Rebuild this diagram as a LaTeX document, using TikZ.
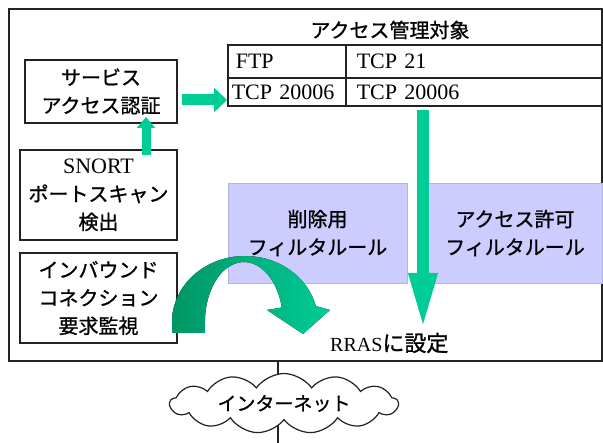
\documentclass[tikz,border=0pt]{standalone}
\usepackage{fontspec}
\setmainfont{Liberation Serif}
\newfontfamily\jp[FakeBold=1]{Noto Sans CJK JP}
\usetikzlibrary{arrows.meta,shapes.symbols}
\definecolor{gA}{RGB}{0,204,150}
\definecolor{gD}{RGB}{0,150,100}
\definecolor{lav}{RGB}{204,204,255}
\definecolor{lavb}{RGB}{180,180,225}
\definecolor{frm}{RGB}{35,35,35}
\begin{document}
\begin{tikzpicture}[x=1pt,y=-1pt,
  jpf/.style={font=\jp\fontsize{20}{28}\selectfont},
  box/.style={draw=frm, line width=1.6pt, fill=white, inner sep=0pt, align=center, jpf},
  cell/.style={draw=frm, line width=1.6pt, inner ysep=0pt, align=left, anchor=north west,
    font=\fontsize{22}{26}\selectfont},
  pbox/.style={draw=lavb, line width=0.8pt, fill=lav, inner sep=0pt, align=center, jpf},
  garrow/.style={draw=gA, line width=#1}
]
\useasboundingbox (0,0) rectangle (603,443);
% outer frame
\node[draw=frm, line width=2pt, minimum width=593pt, minimum height=352pt, inner sep=0pt] (frame) at (305.5,185) {};
% internet line and cloud
\coordinate (lt) at (278,361);
\coordinate (lb) at (278,443);
\draw[line width=2pt, frm] (lt) -- (lb);
\node[cloud, draw=frm, fill=white, line width=1.2pt, cloud puffs=13, cloud puff arc=110, aspect=5,
  minimum width=228pt, minimum height=47pt, inner sep=0pt, font=\jp\fontsize{19}{24}\selectfont] (inet) at (284,403.5) {インターネット};
% left boxes
\node[box, minimum width=152pt, minimum height=63pt] (auth) at (101,91.5) {サービス\\アクセス認証};
\node[box, minimum width=157pt, minimum height=90pt] (snort) at (98.5,195) {{\rmfamily\fontsize{22}{28}\selectfont SNORT}\\ポートスキャン\\検出};
\node[box, minimum width=157pt, minimum height=90pt] (inb) at (98.5,298) {インバウンド\\コネクション\\要求監視};
% table
\node[jpf] (title) at (390,30) {アクセス管理対象};
\node[cell, minimum width=118pt, minimum height=33pt, text width=102pt, inner xsep=8pt] (c11) at (227,44) {FTP};
\node[cell, minimum width=256pt, minimum height=33pt, text width=234pt, inner xsep=11pt] (c12) at (345,44) {TCP 21};
\node[cell, minimum width=118pt, minimum height=28pt, text width=110pt, inner xsep=4pt] (c21) at (227,77) {TCP 20006};
\node[cell, minimum width=256pt, minimum height=28pt, text width=234pt, inner xsep=11pt] (c22) at (345,77) {TCP 20006};
% purple boxes
\node[pbox, minimum width=179pt, minimum height=100pt] (del) at (317.5,233) {削除用\\フィルタルール};
\node[pbox, minimum width=174pt, minimum height=100pt] (acc) at (515,233) {アクセス許可\\フィルタルール};
% RRAS label
\node[anchor=west, inner sep=0pt] (rras) at (330,343) {{\fontsize{20}{24}\selectfont RRAS}{\jp\fontsize{22}{24}\selectfont に設定}};
% curved arrow
\fill[left color=gD, right color=gA]
  (172,333) -- (172,322) arc[start angle=180, end angle=346, x radius=73, y radius=66]
  -- (330,310) -- (303,334) -- (267,310) -- (281.8,307.5)
  arc[start angle=346, end angle=180, x radius=39, y radius=60]
  -- (205,333) -- cycle;
% straight arrows
\coordinate (h1) at (182,100);
\coordinate (h2) at (227,100);
\coordinate (u1) at (146,155);
\coordinate (u2) at (146,117);
\coordinate (d1) at (423,110);
\coordinate (d2) at (423,330);
\draw[garrow=11pt, -{Triangle[length=13pt,width=24pt]}] (h1) -- (h2);
\draw[garrow=9pt, -{Triangle[length=11pt,width=18pt]}] (u1) -- (u2);
\draw[garrow=12pt, -{Triangle[length=57pt,width=26pt]}] (d1) -- (d2);
\end{tikzpicture}
\end{document}
